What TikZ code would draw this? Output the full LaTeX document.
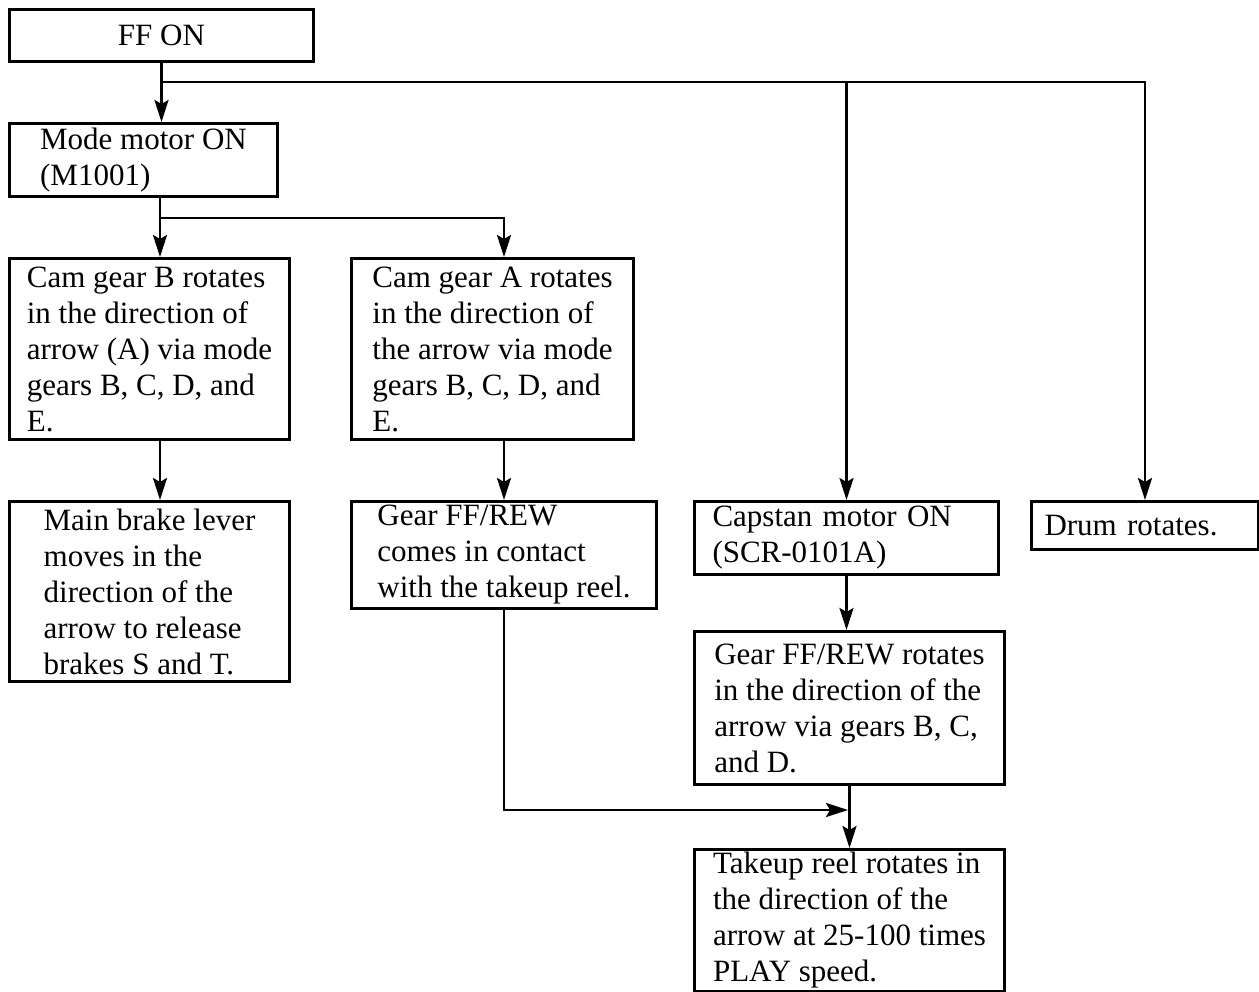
\documentclass[tikz,border=0pt]{standalone}
\usepackage{fontspec}
\setmainfont{Liberation Serif}
\usetikzlibrary{arrows.meta,positioning,calc}

\begin{document}
\begin{tikzpicture}[x=1pt, y=-1pt,
  font=\fontsize{31}{36}\selectfont,
  bx/.style={draw, line width=3pt, anchor=north west, align=left,
             inner xsep=12pt, inner ysep=0pt},
  ar/.style={-{Stealth[length=22pt,width=14pt,inset=4pt]}, line width=2.6pt},
  ln/.style={line width=2.6pt}]
\useasboundingbox (0,0) rectangle (1259,992);
\node[bx, align=center, minimum width=304pt, minimum height=52pt] (ffon) at (8,8) {FF ON};
\node[bx, minimum width=268pt, minimum height=73pt] (mode) at (8,122) {Mode motor ON\\(M1001)};
\node[bx, minimum width=280pt, minimum height=181pt] (camb) at (8,257)
  {Cam gear B rotates\\in the direction of\\arrow (A) via mode\\gears B, C, D, and\\E.};
\node[bx, minimum width=282pt, minimum height=181pt] (cama) at (350,257)
  {Cam gear A rotates\\in the direction of\\the arrow via mode\\gears B, C, D, and\\E.};
\node[bx, minimum width=280pt, minimum height=180pt] (brake) at (8,500)
  {Main brake lever\\moves in the\\direction of the\\arrow to release\\brakes S and T.};
\node[bx, minimum width=305pt, minimum height=107pt] (contact) at (350,500)
  {Gear FF/REW\\comes in contact\\with the takeup reel.};
\node[bx, inner xsep=18pt, text width=268pt, minimum height=73pt] (capstan) at (693,500)
  {Capstan motor ON\\(SCR-0101A)};
\node[bx, inner xsep=13pt, text width=201pt, minimum height=48pt] (drum) at (1030,500) {Drum rotates.};
\node[bx, minimum width=310pt, minimum height=153pt] (gearrot) at (693,630)
  {Gear FF/REW rotates\\in the direction of the\\arrow via gears B, C,\\and D.};
\node[bx, minimum width=310pt, minimum height=142pt] (takeup) at (693,848)
  {Takeup reel rotates in\\the direction of the\\arrow at 25-100 times\\PLAY speed.};
% branch points
\coordinate (s1) at (160,82);
\coordinate (s2) at (160,218);
\coordinate (m) at (848,810);
\draw[ar] (ffon.south) -- (ffon.south |- mode.north);
\draw[ar] (s1) -| (drum.north);
\draw[ar] (s1 -| capstan.north) -- (capstan.north);
\draw[ar] (s1 |- mode.south) -- (s1 |- camb.north);
\draw[ar] (s2) -| (contact.north |- cama.north);
\draw[ar] (s1 |- camb.south) -- (s1 |- brake.north);
\draw[ar] (contact.north |- cama.south) -- (contact.north);
\draw[ar] (capstan.south) -- (capstan.south |- gearrot.north);
\draw[ar] (contact.south) |- (m);
\draw[ar] (gearrot.south) -- (takeup.north);
\end{tikzpicture}
\end{document}
